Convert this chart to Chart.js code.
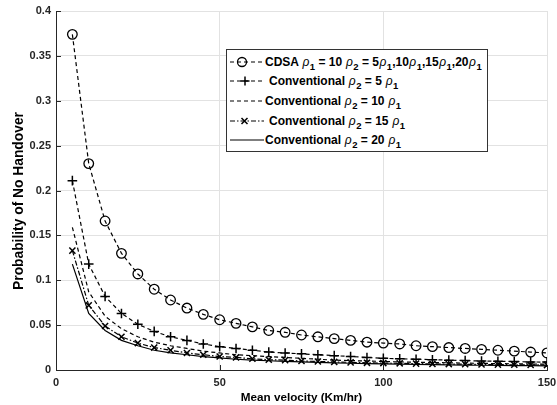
<!DOCTYPE html>
<html>
<head>
<meta charset="utf-8">
<script src="https://cdn.jsdelivr.net/npm/chart.js@4.4.1/dist/chart.umd.min.js"></script>
<style>
  html, body { margin: 0; padding: 0; background: #fff; }
  #wrap { position: relative; width: 557px; height: 405px; }
  #legend {
    position: absolute; left: 226px; top: 49px; width: 260px; height: 101px;
    border: 1.3px solid #333; background: #fff;
    font-family: "Liberation Sans", Arial, sans-serif; font-weight: bold; font-size: 12px; color: #000;
  }
  .row { position: absolute; left: 0; height: 16px; white-space: nowrap; }
  .row svg { position: absolute; left: 2px; top: 0; }
  .row span.t { position: absolute; top: 0; line-height: 16px; }
  .row i { font-family: "Liberation Sans", Arial, sans-serif; font-style: italic; font-weight: normal; font-size: 12px; padding: 0 0.5px; }
  .row sub { font-size: 9.5px; vertical-align: -4px; line-height: 0; }
</style>
</head>
<body>
<div id="wrap">
  <canvas id="c" width="557" height="405"></canvas>
  <div id="legend"></div>
</div>
<script>
// ---------------- data ----------------
const velocity = [5,10,15,20,25,30,35,40,45,50,55,60,65,70,75,80,85,90,95,100,105,110,115,120,125,130,135,140,145,150];
const cdsa   = [0.374,0.230,0.166,0.130,0.107,0.090,0.078,0.069,0.062,0.056,0.052,0.048,0.044,0.042,0.039,0.037,0.035,0.033,0.031,0.030,0.029,0.027,0.026,0.025,0.024,0.023,0.022,0.021,0.020,0.019];
const conv5  = [0.211,0.118,0.082,0.063,0.051,0.043,0.037,0.033,0.029,0.026,0.024,0.022,0.020,0.019,0.018,0.017,0.016,0.015,0.014,0.013,0.0125,0.012,0.0115,0.011,0.0105,0.010,0.0098,0.0094,0.009,0.0088];
const conv10 = [0.159,0.087,0.060,0.046,0.037,0.031,0.027,0.024,0.021,0.019,0.017,0.016,0.015,0.014,0.013,0.012,0.011,0.0105,0.010,0.0095,0.009,0.0087,0.0083,0.008,0.0077,0.0074,0.0071,0.0069,0.0067,0.0065];
const conv15 = [0.133,0.072,0.049,0.037,0.030,0.025,0.022,0.019,0.017,0.015,0.014,0.0125,0.0115,0.011,0.010,0.0095,0.009,0.0085,0.008,0.0077,0.0074,0.0071,0.0068,0.0066,0.0064,0.0062,0.006,0.0058,0.0057,0.0055];
const conv20 = [0.118,0.063,0.044,0.033,0.027,0.022,0.019,0.017,0.015,0.0135,0.012,0.011,0.0103,0.0096,0.009,0.0085,0.008,0.0075,0.0071,0.0068,0.0065,0.0062,0.0059,0.0057,0.0055,0.0053,0.0051,0.0049,0.0048,0.0046];
const xTickLabels = ['0','50','100','150'];
const yTickLabels = ['0','0.05','0.1','0.15','0.2','0.25','0.3','0.35','0.4'];
const xTitle = 'Mean velocity (Km/hr)';
const yTitle = 'Probability of No Handover';
const legendLabels = [
  'CDSA <i>ρ</i><sub>1</sub> = 10 <i>ρ</i><sub>2</sub> = 5<i>ρ</i><sub>1</sub>,10<i>ρ</i><sub>1</sub>,15<i>ρ</i><sub>1</sub>,20<i>ρ</i><sub>1</sub>',
  'Conventional <i>ρ</i><sub>2</sub> = 5 <i>ρ</i><sub>1</sub>',
  'Conventional <i>ρ</i><sub>2</sub> = 10 <i>ρ</i><sub>1</sub>',
  'Conventional <i>ρ</i><sub>2</sub> = 15 <i>ρ</i><sub>1</sub>',
  'Conventional <i>ρ</i><sub>2</sub> = 20 <i>ρ</i><sub>1</sub>'
];
// ---------------------------------------------------------------

const pts = arr => velocity.map((v, i) => ({ x: v, y: arr[i] }));
const FAMILY = '"Liberation Sans", Arial, sans-serif';
const tickFont = { family: FAMILY, weight: 'bold', size: 11 };

const styles = [
  { dash: [4,3], pointStyle: 'circle', radius: 4.8, pbw: 1.3 },
  { dash: [4,3], pointStyle: 'cross', radius: 4.8, pbw: 1.5 },
  { dash: [4,3], pointStyle: false, radius: 0, pbw: 0 },
  { dash: [5,2,1.5,2], pointStyle: 'crossRot', radius: 4.3, pbw: 1.5 },
  { dash: [], pointStyle: false, radius: 0, pbw: 0 }
];
const series = [cdsa, conv5, conv10, conv15, conv20];

const insideTicks = {
  id: 'insideTicks',
  afterDraw(chart) {
    const { ctx, chartArea, scales } = chart;
    ctx.save();
    ctx.strokeStyle = '#262626';
    ctx.lineWidth = 1;
    ctx.beginPath();
    scales.y.ticks.forEach(t => {
      const y = Math.round(scales.y.getPixelForValue(t.value)) + 0.5;
      ctx.moveTo(chartArea.left, y); ctx.lineTo(chartArea.left + 5, y);
    });
    scales.x.ticks.forEach(t => {
      const x = Math.round(scales.x.getPixelForValue(t.value)) + 0.5;
      ctx.moveTo(x, chartArea.bottom); ctx.lineTo(x, chartArea.bottom - 5);
    });
    ctx.stroke();
    // y-axis title (placed like the MATLAB label, slightly below plot centre)
    ctx.translate(19.5, 201);
    ctx.rotate(-Math.PI / 2);
    ctx.fillStyle = '#000';
    ctx.font = 'bold 13.8px ' + FAMILY;
    ctx.textAlign = 'center';
    ctx.textBaseline = 'middle';
    ctx.fillText(yTitle, 0, 0);
    ctx.restore();
  }
};

new Chart(document.getElementById('c'), {
  type: 'line',
  data: {
    datasets: series.map((arr, i) => ({
      data: pts(arr),
      borderColor: '#000',
      borderWidth: 1.2,
      borderDash: styles[i].dash,
      pointStyle: styles[i].pointStyle,
      pointRadius: styles[i].radius,
      pointBorderWidth: styles[i].pbw,
      pointBorderColor: '#000',
      pointBackgroundColor: 'rgba(0,0,0,0)',
      fill: false,
      tension: 0
    }))
  },
  options: {
    responsive: false,
    animation: false,
    layout: { padding: { top: 11, right: 10, left: 0, bottom: 0 } },
    plugins: { legend: { display: false }, tooltip: { enabled: false } },
    scales: {
      x: {
        type: 'linear', min: 0, max: 150,
        ticks: { stepSize: 50, font: tickFont, color: '#262626', padding: 6,
                 callback: (v) => xTickLabels[Math.round(v / 50)] },
        grid: { color: '#e2e2e2', drawTicks: false },
        border: { color: '#262626', width: 1 },
        title: { display: true, text: xTitle, color: '#000',
                 font: { family: FAMILY, weight: 'bold', size: 11.7 },
                 padding: { top: 0, bottom: 0 } },
        afterFit: s => { s.height = 35; s.paddingLeft = 0; s.paddingRight = 0; }
      },
      y: {
        min: 0, max: 0.4,
        ticks: { stepSize: 0.05, font: tickFont, color: '#262626', padding: 5,
                 callback: (v) => yTickLabels[Math.round(v / 0.05)] },
        grid: { color: '#e2e2e2', drawTicks: false },
        border: { color: '#262626', width: 1 },
        title: { display: false },
        afterFit: s => { s.width = 56; s.paddingTop = 0; s.paddingBottom = 0; }
      }
    }
  },
  plugins: [insideTicks]
});

// HTML legend (real text with subscripts)
const legend = document.getElementById('legend');
const rowTops = [4, 23, 43, 63, 82];
const textLeft = [38, 42, 38, 42, 38];
const sampleSvg = (i) => {
  const s = styles[i];
  let m = '';
  if (s.pointStyle === 'circle') m = '<circle cx="13" cy="8" r="4.5" fill="none" stroke="#000" stroke-width="1.3"/>';
  if (s.pointStyle === 'cross') m = '<path d="M16 3.5V12.5M11.5 8H20.5" stroke="#000" stroke-width="1.5"/>';
  if (s.pointStyle === 'crossRot') m = '<path d="M12.5 5L18.5 11M12.5 11L18.5 5" stroke="#000" stroke-width="1.5"/>';
  const dash = s.dash.length ? ' stroke-dasharray="' + s.dash.join(',') + '"' : '';
  return '<svg width="36" height="16"><line x1="1" y1="8" x2="35" y2="8" stroke="#000" stroke-width="1.2"' + dash + '/>' + m + '</svg>';
};
legendLabels.forEach((txt, i) => {
  const r = document.createElement('div');
  r.className = 'row';
  r.style.top = rowTops[i] + 'px';
  r.innerHTML = sampleSvg(i) + '<span class="t" style="left:' + textLeft[i] + 'px">' + txt + '</span>';
  legend.appendChild(r);
});
</script>
</body>
</html>
